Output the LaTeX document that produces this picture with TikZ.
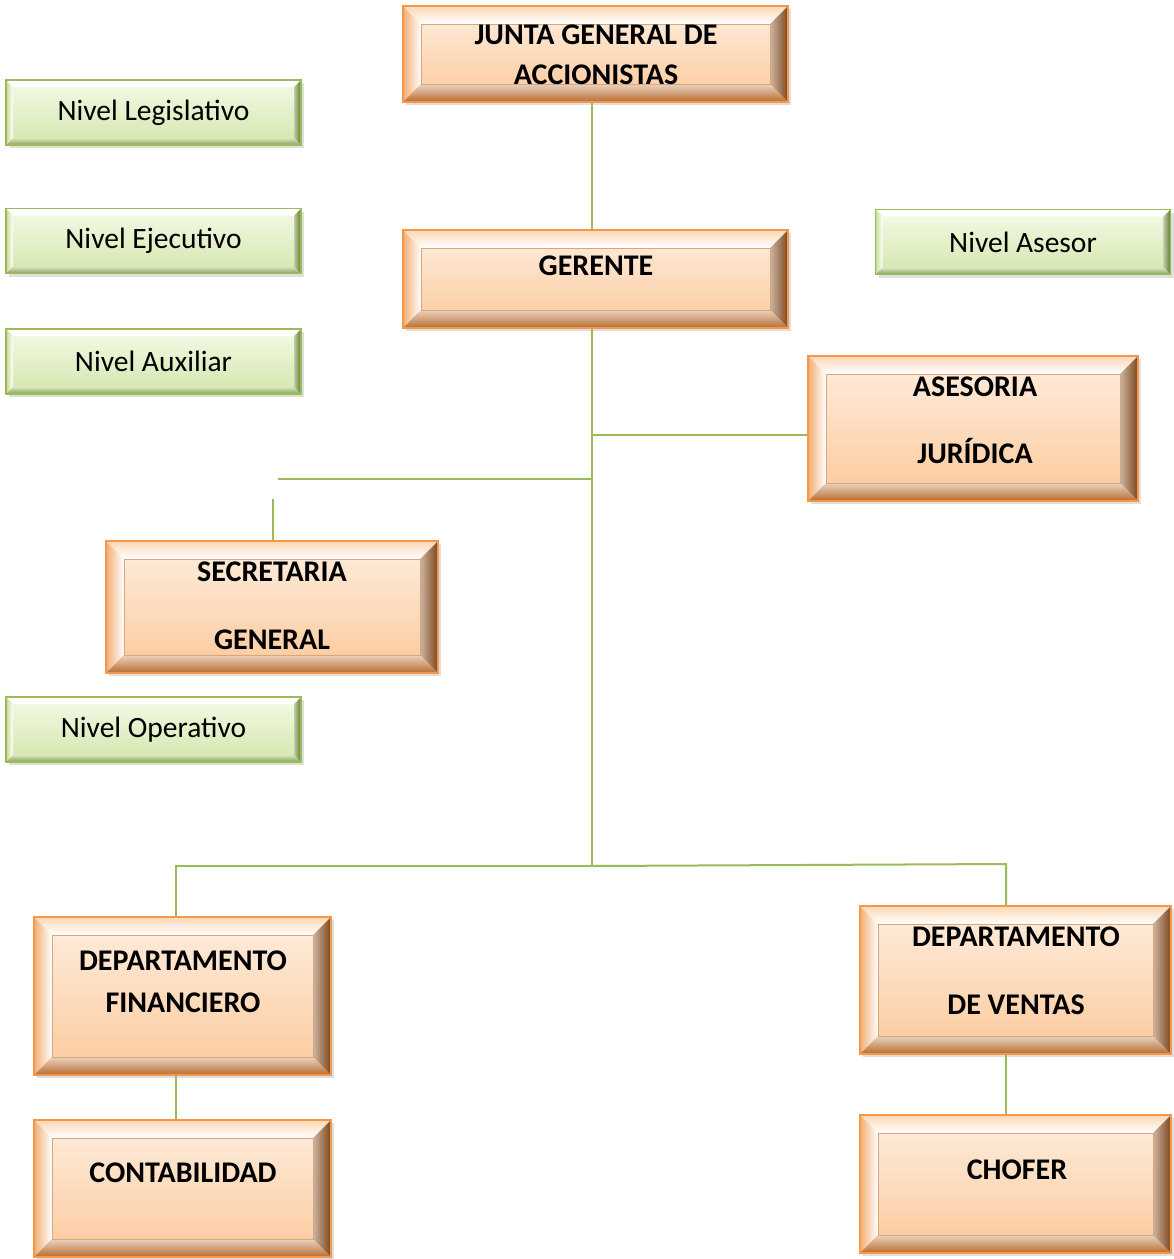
\documentclass[tikz,border=0pt]{standalone}
\usepackage{fontspec}
\setmainfont{Carlito}
\usepackage{tikz}
\usetikzlibrary{calc,shadows}
\definecolor{fcnaranja}{HTML}{F79646}
\definecolor{fcpeachtop}{HTML}{FEEEDF}
\definecolor{fcpeachbot}{HTML}{FBC99B}
\definecolor{fcleftout}{HTML}{F2AE74}
\definecolor{fcleftin}{HTML}{FDE3CB}
\definecolor{fctopout}{HTML}{FBD7B5}
\definecolor{fcrightin}{HTML}{EBAB70}
\definecolor{fcrightout}{HTML}{7D461B}
\definecolor{fcbotin}{HTML}{F6C08E}
\definecolor{fcbotout}{HTML}{B86C30}
\definecolor{fcinner}{HTML}{D8A67C}
\definecolor{vdborde}{HTML}{9BBB59}
\definecolor{vdtop}{HTML}{F5FAE8}
\definecolor{vdbot}{HTML}{D3E6AC}
\definecolor{vdleft}{HTML}{C6DC94}
\definecolor{vdright}{HTML}{5F7D26}
\definecolor{vdbotb}{HTML}{86A548}
\tikzstyle{every node}=[font=\fontsize{29.5}{35}\selectfont]
\tikzset{
  bevelpic/.style n args={5}{path picture={
    \path (path picture bounding box.north west) coordinate (bA)
          (path picture bounding box.north east) coordinate (bB)
          (path picture bounding box.south east) coordinate (bC)
          (path picture bounding box.south west) coordinate (bD)
          ([shift={(#1,-#1)}]bA) coordinate (ba)
          ([shift={(-#1,-#1)}]bB) coordinate (bb)
          ([shift={(-#1,#1)}]bC) coordinate (bc)
          ([shift={(#1,#1)}]bD) coordinate (bd);
    \shade[top color=#2, bottom color=white] (bA) -- (bB) -- (bb) -- (ba) -- cycle;
    \shade[left color=#3, right color=white] (bA) -- (ba) -- (bd) -- (bD) -- cycle;
    \shade[left color=#4!40!white, right color=#4] (bB) -- (bC) -- (bc) -- (bb) -- cycle;
    \shade[top color=#5!30!white, bottom color=#5] (bD) -- (bd) -- (bc) -- (bC) -- cycle;
  }},
  orgbox/.style={draw=fcnaranja, line width=1.5pt, top color=fcpeachtop, bottom color=fcpeachbot,
    drop shadow={opacity=0.25, shadow xshift=3pt, shadow yshift=-3pt},
    bevelpic={18pt}{fctopout}{fcleftout}{fcrightout}{fcbotout},
    postaction={draw=none, path picture={\draw[fcinner, line width=0.8pt] (ba) rectangle (bc);}}},
  orgtext/.style={font=\bfseries\fontsize{30}{36}\selectfont, align=center, inner sep=0pt},
  nivel/.style={draw=vdborde, line width=1.5pt, top color=vdtop, bottom color=vdbot,
    minimum width=295pt, minimum height=65pt, inner sep=0pt,
    drop shadow={opacity=0.25, shadow xshift=3pt, shadow yshift=-3pt},
    bevelpic={7pt}{white}{vdleft}{vdright}{vdbotb}},
  link/.style={line width=2pt, color=vdborde}
}
\begin{document}
\begin{tikzpicture}[line cap=butt,line join=miter,x=1pt,y=-1pt]
\useasboundingbox (0,0) rectangle (1174,1259);
% cajas de niveles
\node[nivel] (leg) at (153.5,112.5) {Nivel Legislativo};
\node[nivel] (eje) at (153.5,241) {Nivel Ejecutivo};
\node[nivel] (aux) at (153.5,361.5) {Nivel Auxiliar};
\node[nivel] (ope) at (153.5,729.5) {Nivel Operativo};
\node[nivel] (asr) at (1023,242) {Nivel Asesor};
% cajas del organigrama
\node[orgbox, minimum width=385pt, minimum height=96pt] (junta) at (595.5,54) {};
\node[orgbox, minimum width=385pt, minimum height=98pt] (ger) at (595.5,279) {};
\node[orgbox, minimum width=330pt, minimum height=145pt] (ase) at (973,428.5) {};
\node[orgbox, minimum width=332pt, minimum height=132pt] (sec) at (272,607) {};
\node[orgbox, minimum width=297pt, minimum height=158pt] (fin) at (182.5,996) {};
\node[orgbox, minimum width=311pt, minimum height=148pt] (ven) at (1015.5,980) {};
\node[orgbox, minimum width=297pt, minimum height=137pt] (cont) at (182.5,1188.5) {};
\node[orgbox, minimum width=311pt, minimum height=138pt] (cho) at (1015.5,1184) {};
% textos
\node[orgtext] (juntatxt) at (596,55) {JUNTA GENERAL DE\\[4pt]ACCIONISTAS};
\node[orgtext] (gertxt) at (596,266) {GERENTE};
\node[orgtext] (asetxt) at (975,420) {ASESORIA\\[31pt]JURÍDICA};
\node[orgtext] (sectxt) at (272,606) {SECRETARIA\\[32pt]GENERAL};
\node[orgtext] (fintxt) at (183,982) {DEPARTAMENTO\\[6pt]FINANCIERO};
\node[orgtext] (ventxt) at (1016,971) {DEPARTAMENTO\\[32pt]DE VENTAS};
\node[orgtext] (conttxt) at (183,1173) {CONTABILIDAD};
\node[orgtext] (chotxt) at (1017,1170) {CHOFER};
% lineas
\coordinate (spine) at (592,0);
\coordinate (hub) at (592,866);
\coordinate (secbranch) at (278,479);
\coordinate (secdrop) at (273,499);
\coordinate (finturn) at (176,866);
\coordinate (venturn) at (1006,864);
\draw[link] (junta.south -| spine) -- (ger.north -| spine);
\draw[link] (ger.south -| spine) -- (hub);
\draw[link] (spine |- 0,435) -- (ase.west |- 0,435);
\draw[link] (spine |- secbranch) -- (secbranch);
\draw[link] (secdrop) -- (sec.north -| secdrop);
\draw[link] (hub) -- (finturn) -- (finturn |- fin.north);
\draw[link] (hub) -- (venturn) -- (venturn |- ven.north);
\draw[link] (finturn |- fin.south) -- (finturn |- cont.north);
\draw[link] (venturn |- ven.south) -- (venturn |- cho.north);
\end{tikzpicture}
\end{document}
